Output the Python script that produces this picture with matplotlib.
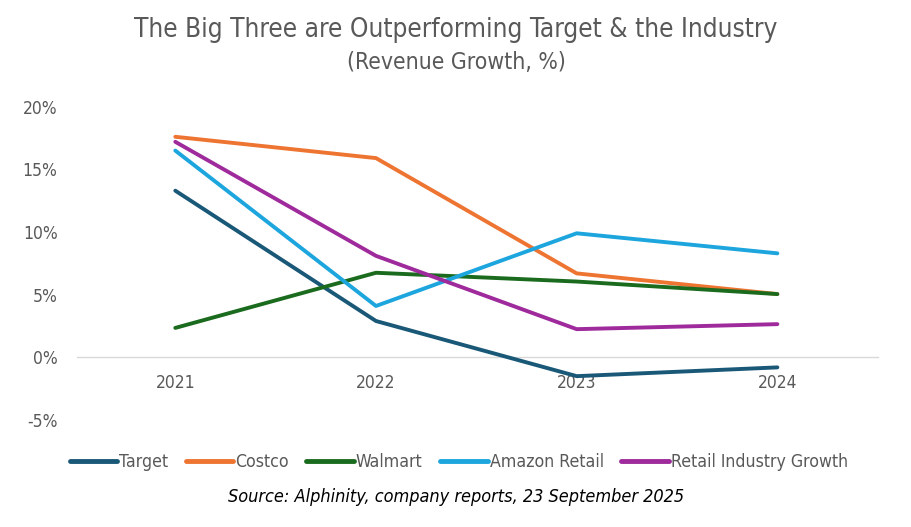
import matplotlib.pyplot as plt
from matplotlib.lines import Line2D

plt.rcParams['font.family'] = ['DejaVu Sans']
plt.rcParams['font.stretch'] = 'condensed'

# data (revenue growth, %)
years = ['2021', '2022', '2023', '2024']
target = [13.3, 2.9, -1.5, -0.8]
costco = [17.6, 15.9, 6.7, 5.05]
walmart = [2.35, 6.75, 6.05, 5.05]
amazon = [16.5, 4.1, 9.9, 8.3]
retail = [17.2, 8.1, 2.25, 2.65]

names = ['Target', 'Costco', 'Walmart', 'Amazon Retail', 'Retail Industry Growth']
colors = ['#1A5878', '#EE7432', '#1B6B1E', '#1DA5DE', '#9E2A9C']
series = [target, costco, walmart, amazon, retail]

grey = '#595959'

fig = plt.figure(figsize=(9.12, 5.27), dpi=100)
ax = fig.add_axes([0.0844, 0.203, 0.878, 0.5945])

x = range(len(years))
for vals, c in zip(series, colors):
    ax.plot(x, vals, color=c, lw=2.8, solid_capstyle='round', solid_joinstyle='round')

ax.set_xlim(-0.49, 3.5)
ax.set_ylim(-5, 20)
ax.set_yticks([-5, 0, 5, 10, 15, 20])
ax.set_yticklabels(['-5%', '0%', '5%', '10%', '15%', '20%'])
ax.set_xticks(list(x))
ax.set_xticklabels(years)

for s in ['top', 'right', 'left']:
    ax.spines[s].set_visible(False)
ax.spines['bottom'].set_position(('data', 0))
ax.spines['bottom'].set_color('#D9D9D9')
ax.spines['bottom'].set_linewidth(1.0)
ax.spines['bottom'].set_zorder(0)
ax.tick_params(axis='both', length=0, labelsize=12.5, labelcolor=grey)
ax.tick_params(axis='y', pad=14)
ax.tick_params(axis='x', pad=12)

fig.text(0.5, 0.943, 'The Big Three are Outperforming Target & the Industry',
         ha='center', va='center', fontsize=18.8, color=grey)
fig.text(0.5, 0.882, '(Revenue Growth, %)', ha='center', va='center', fontsize=16.5, color=grey)

handles = [Line2D([0], [0], color=c, lw=3.5, solid_capstyle='round') for c in colors]
fig.legend(handles, names, loc='center', bbox_to_anchor=(0.503, 0.123), ncol=5, frameon=False,
           fontsize=12.7, labelcolor=grey, handlelength=2.7, handletextpad=0.1, columnspacing=1.0)

fig.text(0.5, 0.057, 'Source: Alphinity, company reports, 23 September 2025',
         ha='center', va='center', fontsize=13, style='italic', color='black')

fig.savefig('out.png', dpi=100)
